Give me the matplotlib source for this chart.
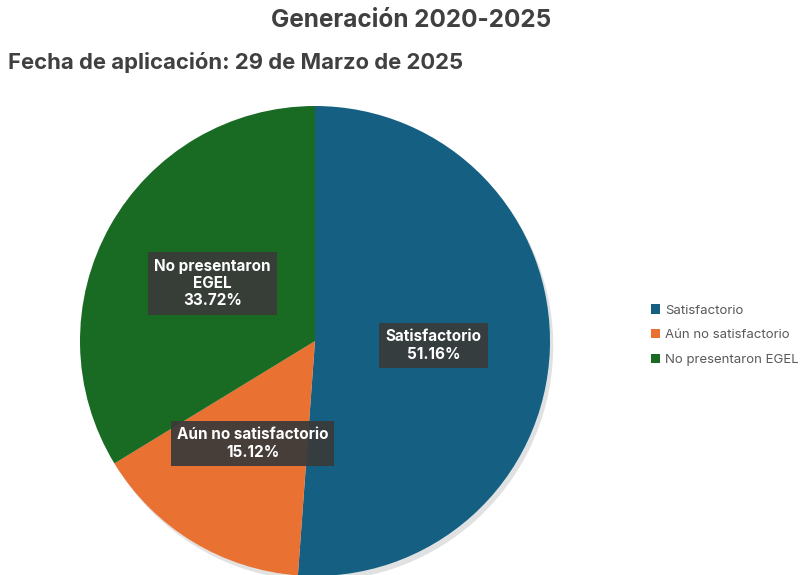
import matplotlib.pyplot as plt
from matplotlib.patches import Patch
import numpy as np

plt.rcParams['font.family'] = ['Inter', 'DejaVu Sans']

categories = ["Satisfactorio", "Aún no satisfactorio", "No presentaron EGEL"]
box_labels = ["Satisfactorio", "Aún no satisfactorio", "No presentaron\nEGEL"]
values = [51.16, 15.12, 33.72]
colors = ["#156082", "#E97132", "#196B24"]
label_r = [0.505, 0.51, 0.50]

fig = plt.figure(figsize=(8.09, 5.75), dpi=100)
fig.patch.set_facecolor("white")

# axes placed so the pie has center ~(315, 341) px, radius ~235 px
W, H = 809, 575
cx, cy, r = 315, 341, 235
ax = fig.add_axes([(cx - r) / W, (H - cy - r) / H, 2 * r / W, 2 * r / H])

wedges, _ = ax.pie(values, colors=colors, startangle=90, counterclock=False,
                   radius=1, wedgeprops=dict(linewidth=0),
                   shadow=dict(ox=0.01, oy=-0.015, shade=0.85, alpha=0.12))
ax.set_xlim(-1, 1)
ax.set_ylim(-1, 1)
ax.set_aspect("equal")
ax.axis("off")

for w, lab, v, lr in zip(wedges, box_labels, values, label_r):
    ang = np.deg2rad((w.theta1 + w.theta2) / 2)
    x, y = lr * np.cos(ang), lr * np.sin(ang)
    ax.text(x, y, f"{lab}\n{v:.2f}%", ha="center", va="center",
            fontsize=11, fontweight="bold", color="white", linespacing=1.2,
            bbox=dict(boxstyle="square,pad=0.4", fc="#3a3a3a", ec="none", alpha=0.92))

fig.text(0.508, 0.964, "Generación 2020-2025", ha="center", va="center",
         fontsize=17.5, fontweight="bold", color="#404040")
fig.text(0.01, 0.891, "Fecha de aplicación: 29 de Marzo de 2025", ha="left", va="center",
         fontsize=15.9, fontweight="bold", color="#404040")

handles = [Patch(facecolor=c, edgecolor="none") for c in colors]
leg = fig.legend(handles, categories, loc="center left", bbox_to_anchor=(0.79, 0.417),
                 frameon=False, fontsize=9.5, handlelength=0.7, handleheight=0.7,
                 handletextpad=0.4, labelspacing=0.95)
for t in leg.get_texts():
    t.set_color("#595959")

fig.savefig("out.png", dpi=100, facecolor="white")
